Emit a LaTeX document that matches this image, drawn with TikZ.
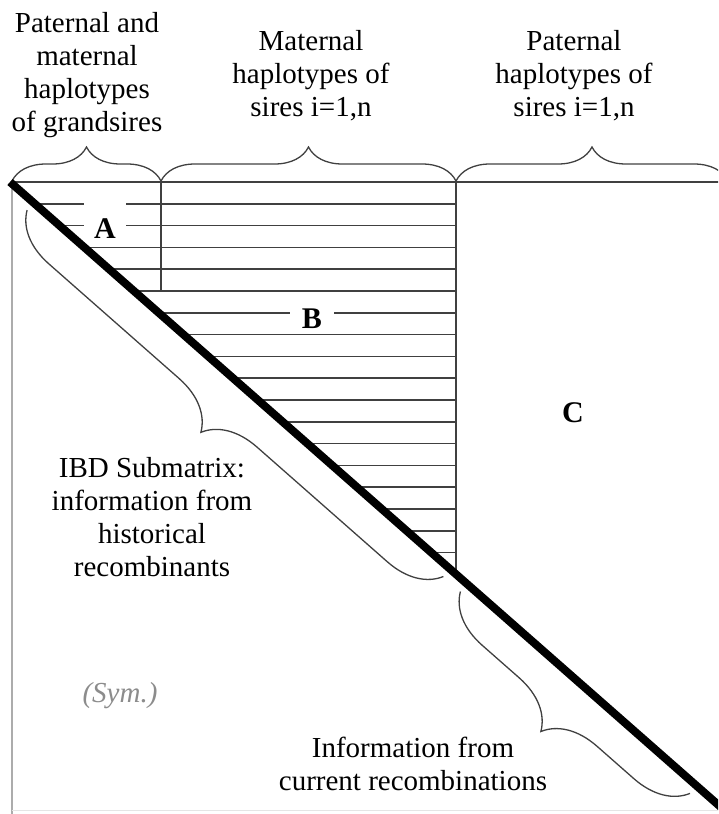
\documentclass[tikz,border=0pt]{standalone}
\usepackage{fontspec}
\setmainfont{Liberation Serif}
\usepackage{tikz}
\usetikzlibrary{decorations.pathreplacing}
\definecolor{rulegray}{gray}{0.25}
\definecolor{symgray}{gray}{0.55}
\tikzset{
	lbl/.style={align=center, font=\fontsize{29}{33}\selectfont, inner sep=0pt, anchor=north},
	blk/.style={font=\fontsize{30}{33}\selectfont\bfseries, anchor=base},
	rul/.style={color=rulegray, line width=1.5pt},
	brc/.style={color=rulegray, line width=1.3pt, decorate, decoration={brace, amplitude=#1}},
}

\begin{document}
\begin{tikzpicture}[x=1pt, y=-1pt]
	\useasboundingbox (0,0) rectangle (718,814);
	\clip (0,0) rectangle (718,814);
	% corners of the blocks and the diagonal
	\coordinate (tl) at (12,182);
	\coordinate (ab) at (161,182);
	\coordinate (bc) at (456,182);
	\coordinate (tr) at (728,182);
	\coordinate (d0) at (10,182);
	\coordinate (d1) at (740,824);
	% rows of A and B, from the diagonal to the edge of B
	\foreach \i in {1,...,17} {
		\pgfmathsetmacro\yy{182+21.8*\i}
		\pgfmathsetmacro\xx{10+(\yy-182)/642*730}
		\draw [rul] (\xx,\yy) -- (456,\yy);
	}
	\draw [rul] (tl) -- (tr);
	\draw [rul] (ab) -- (161,291);
	\draw [rul] (bc) -- (456,574);
	\draw [color=gray!65, line width=2.2pt] (tl) -- (12,814);
	\draw [color=gray!20, line width=1pt] (12,810) -- (718,810);
	\node [blk, fill=white, text height=34pt, text depth=6pt, inner xsep=10pt, inner ysep=2pt] (A) at (105,238) {A};
	\node [blk, fill=white, text height=24pt, text depth=3pt, inner xsep=12pt, inner ysep=1pt] (B) at (312,328) {B};
	\node [blk] (C) at (573,422) {C};
	% braces over the columns
	\coordinate (g0) at (12,181);
	\coordinate (g1) at (161,181);
	\coordinate (m1) at (456,181);
	\coordinate (p1) at (728,181);
	\draw [brc=34] (g0) -- (g1);
	\draw [brc=34] (g1) -- (m1);
	\draw [brc=34] (m1) -- (p1);
	% braces along the diagonal
	\coordinate (ibd0) at (27,210);
	\coordinate (ibd1) at (443.4,576.5);
	\coordinate (cur0) at (460.4,591.5);
	\coordinate (cur1) at (690,793.4);
	\draw [brc=52] (ibd1) -- (ibd0);
	\draw [brc=52] (cur1) -- (cur0);
	\draw [line width=8pt] (d0) -- (d1);
	% texts
	\node [lbl] (grand) at (87,12) {Paternal and\\maternal\\haplotypes\\of grandsires};
	\node [lbl] (mat) at (311,30) {Maternal\\haplotypes of\\sires i=1,n};
	\node [lbl] (pat) at (574,30) {Paternal\\haplotypes of\\sires i=1,n};
	\node [lbl] (ibd) at (152,457) {IBD Submatrix:\\information from\\historical\\recombinants};
	\node [lbl] (cur) at (413,737) {Information from\\current recombinations};
	\node [font=\fontsize{29}{33}\selectfont\itshape, text=symgray, anchor=base] (sym) at (120,702) {(Sym.)};
\end{tikzpicture}
\end{document}
